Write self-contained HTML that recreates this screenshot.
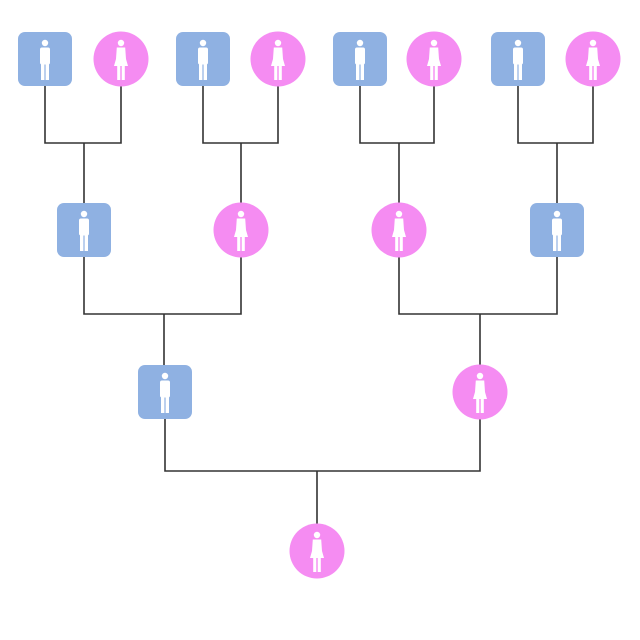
<!DOCTYPE html>
<html><head><meta charset="utf-8"><style>html,body{margin:0;padding:0;background:#fff}svg{display:block}</style></head>
<body>
<svg width="640" height="640" viewBox="0 0 640 640" xmlns="http://www.w3.org/2000/svg">
<defs>
<g id="m" fill="#fff">
<circle cx="0" cy="-16" r="3.2"/>
<rect x="-5" y="-11.5" width="10" height="17" rx="2"/>
<rect x="-4" y="4" width="3.4" height="17"/>
<rect x="0.6" y="4" width="3.4" height="17"/>
</g>
<g id="f" fill="#fff">
<circle cx="0" cy="-16" r="3.2"/>
<path d="M-4.2 -11.5 H4.2 L5 0 L7 7 H-7 L-5 0 Z"/>
<rect x="-3.8" y="6" width="3.1" height="15"/>
<rect x="0.7" y="6" width="3.1" height="15"/>
</g>
<g id="M"><rect x="-27" y="-27" width="54" height="54" rx="7" fill="#8fb1e2"/><use href="#m"/></g>
<g id="F"><circle r="27.5" fill="#f58cf2"/><use href="#f"/></g>
</defs>
<g stroke="#333" stroke-width="1.6" fill="none">
<path d="M45 59V143H121V59M84 143V230"/>
<path d="M203 59V143H278V59M241 143V230"/>
<path d="M360 59V143H434V59M399 143V230"/>
<path d="M518 59V143H593V59M557 143V230"/>
<path d="M84 230V314H241V230M164 314V392"/>
<path d="M399 230V314H557V230M480 314V392"/>
<path d="M165 392V471H480V392M317 471V551"/>
</g>
<use href="#M" x="45" y="59"/><use href="#F" x="121" y="59"/>
<use href="#M" x="203" y="59"/><use href="#F" x="278" y="59"/>
<use href="#M" x="360" y="59"/><use href="#F" x="434" y="59"/>
<use href="#M" x="518" y="59"/><use href="#F" x="593" y="59"/>
<use href="#M" x="84" y="230"/><use href="#F" x="241" y="230"/>
<use href="#F" x="399" y="230"/><use href="#M" x="557" y="230"/>
<use href="#M" x="165" y="392"/><use href="#F" x="480" y="392"/>
<use href="#F" x="317" y="551"/>
</svg>
</body></html>
